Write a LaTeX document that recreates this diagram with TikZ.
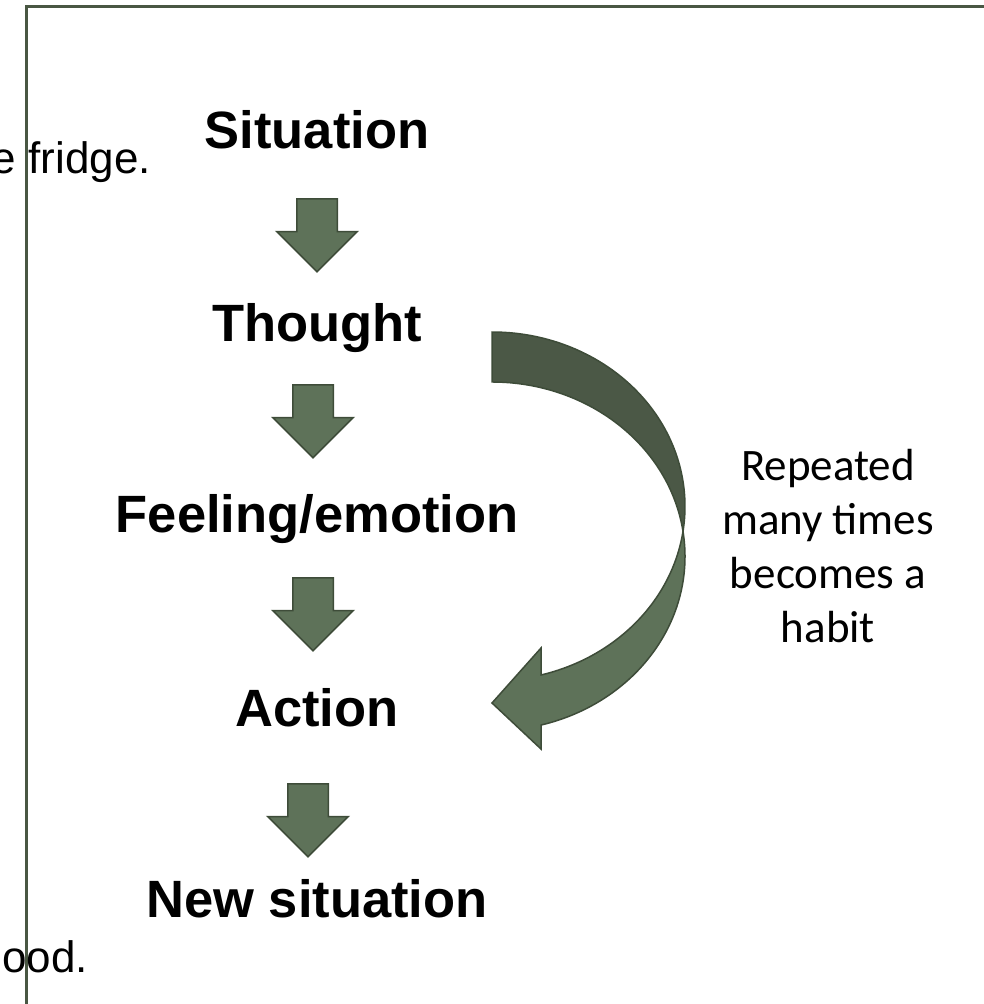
\documentclass[tikz,border=0pt]{standalone}
\usepackage{fontspec}
\setmainfont{Liberation Sans}
\newfontfamily\habitfont{Carlito}
\usetikzlibrary{shapes.arrows, positioning, calc}

\definecolor{arrowfill}{RGB}{94,114,89}
\definecolor{arrowdark}{RGB}{75,88,70}
\definecolor{arrowline}{RGB}{62,76,57}
\definecolor{framegreen}{RGB}{73,87,67}

\tikzset{
  stage/.style={anchor=base, inner sep=0pt, font=\fontsize{52.5}{63}\selectfont\bfseries},
  downarrow/.style={single arrow, shape border rotate=270, fill=arrowfill, draw=arrowline,
    line width=1.5pt, minimum height=73pt, inner xsep=19.5pt, inner ysep=0pt,
    single arrow head extend=20pt, single arrow head indent=0pt},
  loopline/.style={draw=arrowline, line width=1.5pt, line join=miter},
}

\begin{document}
\begin{tikzpicture}[x=1pt, y=-1pt]
        \useasboundingbox (0,0) rectangle (983,1004);

        % Text box frame
        \draw[framegreen, line width=3pt] (26,1100) -- (26,6) -- (1100,6);

        % Clipped text on the left
        \node[anchor=base east, inner sep=0pt, font=\fontsize{44}{53}\selectfont] (fridge) at (151,173) {e fridge.};
        \node[anchor=base east, inner sep=0pt, font=\fontsize{44}{53}\selectfont] (food) at (88,972) {ood.};

        % Stages
        \node[stage] (sit) at (317,148) {Situation};
        \node[stage] (tho) at (317,341) {Thought};
        \node[stage] (feel) at (317,532) {Feeling/emotion};
        \node[stage] (act) at (317,726) {Action};
        \node[stage] (new) at (317,917) {New situation};

        % Block arrows
        \node[downarrow, below=50pt of sit.base] (a1) {};
        \node[downarrow, below=43pt of tho.base, xshift=-4pt] (a2) {};
        \node[downarrow, below=45pt of feel.base, xshift=-4pt] (a3) {};
        \node[downarrow, below=57pt of act.base, xshift=-9pt] (a4) {};

        % Habit loop
        \coordinate (loopmeet) at (683,531.4);
        \fill[arrowfill, loopline] (loopmeet)
          arc[start angle=-8.24, end angle=75.29, x radius=193, y radius=174.4]
          -- (541,749) -- (492,703) -- (541,648) -- (541,675)
          arc[start angle=75.29, end angle=8.24, x radius=193, y radius=174.4] -- cycle;
        \fill[arrowdark, loopline] (492,332)
          arc[start angle=-90, end angle=8.24, x radius=193, y radius=174.4]
          arc[start angle=-8.24, end angle=-90, x radius=193, y radius=174.4] -- cycle;

        \node[align=center, inner sep=0pt, font=\habitfont\fontsize{45}{54}\selectfont] (habit) at (828,546) {Repeated\\many times\\becomes a\\habit};
    \end{tikzpicture}
\end{document}
